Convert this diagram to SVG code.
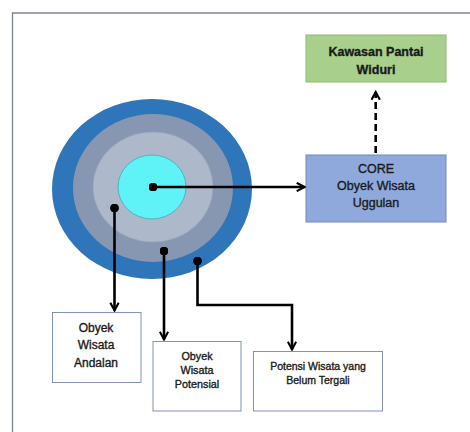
<svg xmlns="http://www.w3.org/2000/svg" width="470" height="432" viewBox="0 0 470 432">
<defs>
<marker id="chev" viewBox="0 0 10 10" refX="8.5" refY="5" markerWidth="4" markerHeight="4" orient="auto" markerUnits="strokeWidth">
<path d="M1,1 L8.5,5 L1,9" fill="none" stroke="#000" stroke-width="2"/>
</marker>
<marker id="dot" viewBox="0 0 10 10" refX="5" refY="5" markerWidth="3.4" markerHeight="3.4" markerUnits="strokeWidth">
<circle cx="5" cy="5" r="5" fill="#000"/>
</marker>
</defs>
<style>
text{font-family:"Liberation Sans",Arial,sans-serif;fill:#1a1a1a;text-anchor:middle;stroke:#1a1a1a;stroke-width:0.35}
.wb{fill:#fff;stroke:#7f93bd;stroke-width:1}
.ln{fill:none;stroke:#000;stroke-width:2.6;marker-start:url(#dot);marker-end:url(#chev)}
</style>
<rect x="0" y="0" width="470" height="432" fill="#fff"/>
<path d="M12.5,432 V13 H470" fill="none" stroke="#80868e" stroke-width="1.3"/>
<g id="target">
<ellipse cx="152" cy="189" rx="100" ry="90" fill="#2f75ba"/>
<ellipse cx="153" cy="188" rx="80" ry="74" fill="#8797b1"/>
<ellipse cx="153" cy="187" rx="60" ry="55" fill="#adb8cb" stroke="#9aa6ba" stroke-width="0.8"/>
<ellipse cx="152" cy="187" rx="34" ry="32" fill="#5ff3f7" stroke="#3fa9b8" stroke-width="0.8"/>
</g>
<g id="kawasan">
<rect x="306" y="35" width="140" height="47" fill="#a8d08c" stroke="#8dbb6e" stroke-width="1"/>
<text x="376" y="55.5" font-size="12.5" font-weight="bold" stroke-width="0">Kawasan Pantai</text>
<text x="376" y="73.5" font-size="12.5" font-weight="bold" stroke-width="0">Widuri</text>
</g>
<g id="core">
<rect x="306" y="155" width="140" height="67" fill="#8fa9dc" stroke="#6d8bc2" stroke-width="1"/>
<text x="376" y="173" font-size="12.5">CORE</text>
<text x="376" y="190" font-size="12.5">Obyek Wisata</text>
<text x="376" y="207" font-size="12.5">Uggulan</text>
</g>
<g id="andalan">
<rect class="wb" x="52.5" y="312.5" width="88.5" height="70"/>
<text x="96" y="332" font-size="12">Obyek</text>
<text x="96" y="349" font-size="12">Wisata</text>
<text x="96" y="367" font-size="12">Andalan</text>
</g>
<g id="potensial">
<rect class="wb" x="153" y="341.5" width="88" height="69.5"/>
<text x="197" y="359.5" font-size="10.8">Obyek</text>
<text x="197" y="374" font-size="10.8">Wisata</text>
<text x="197" y="388" font-size="10.8">Potensial</text>
</g>
<g id="tergali">
<rect class="wb" x="253.5" y="351.5" width="129" height="59.5"/>
<text x="318" y="369.5" font-size="10.5">Potensi Wisata yang</text>
<text x="318" y="383.5" font-size="10.5">Belum Tergali</text>
</g>
<g id="connectors">
<line class="ln" x1="153" y1="187" x2="304.5" y2="187"/>
<line x1="375.7" y1="153" x2="375.7" y2="92" fill="none" stroke="#000" stroke-width="2.6" stroke-dasharray="7,4" marker-end="url(#chev)"/>
<line class="ln" x1="114.5" y1="208" x2="114.5" y2="310.5"/>
<line class="ln" x1="164" y1="251" x2="164" y2="339.5"/>
<polyline class="ln" points="197.5,261 197.5,305 292,305 292,349.5"/>
</g>
</svg>
